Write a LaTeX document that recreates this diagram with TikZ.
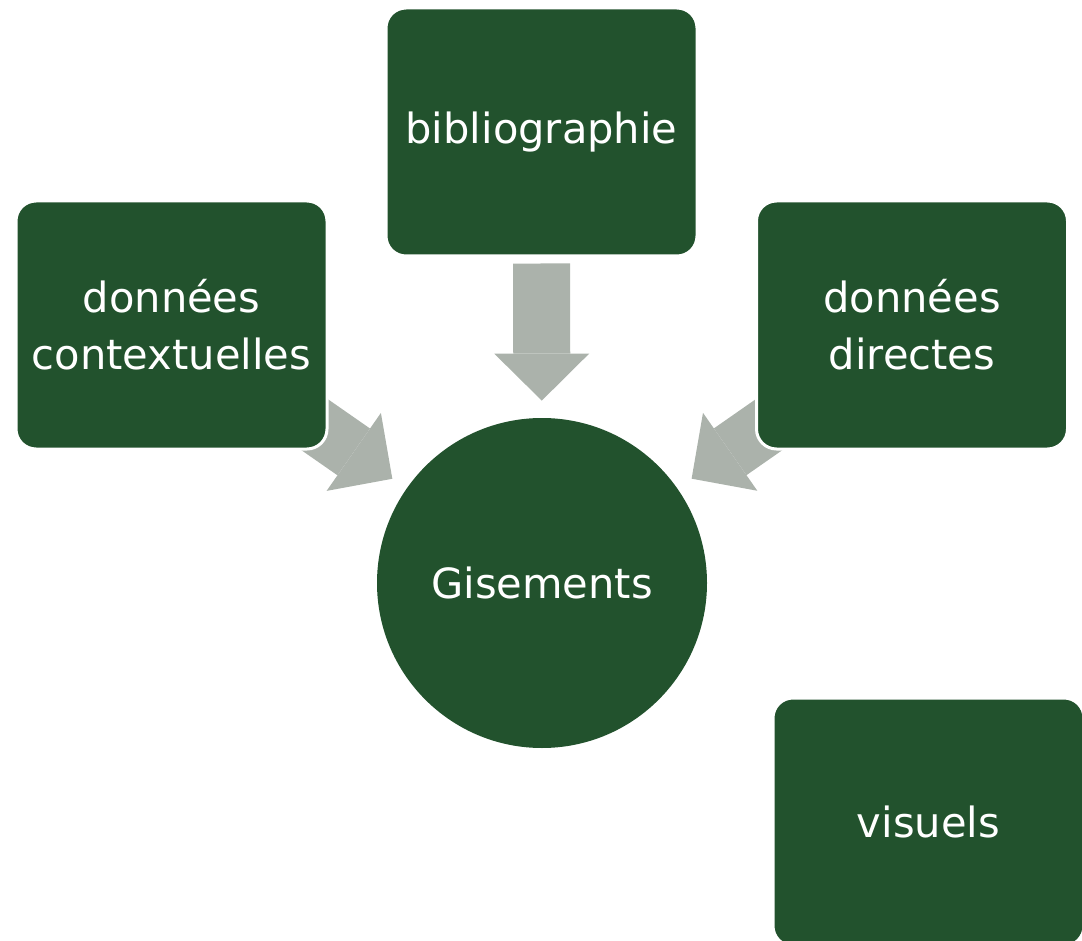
\documentclass[tikz,border=0pt]{standalone}
\usepackage{fontspec}
\setmainfont{DejaVu Sans}
\usetikzlibrary{arrows.meta,backgrounds}
\definecolor{gisgreen}{HTML}{22522D}
\definecolor{arrowgray}{HTML}{ABB2AB}

\begin{document}
\begin{tikzpicture}[x=0.5pt,y=-0.5pt,
    source/.style={rectangle, rounded corners=10pt, fill=gisgreen, draw=white, line width=1.5pt,
        text=white, minimum width=155.5pt, minimum height=124pt, align=center,
        font=\fontsize{20.8}{28.5}\selectfont},
    bigarrow/.style={draw=arrowgray, line width=28.5pt,
        -{Triangle[length=23.5pt, width=47.5pt, line width=0pt]}, shorten >=8.5pt}]
       \useasboundingbox (0,0) rectangle (1082,941);

       \node(Bib)[source] at (541.5,132) {bibliographie};
       \node(Ctx)[source] at (171.5,325) {données\\contextuelles};
       \node(Dir)[source] at (912,325) {données\\directes};
       \node(Vis)[source] at (928.5,822) {visuels};

       \node(Gis)[circle, fill=gisgreen, text=white, minimum size=165pt, inner sep=0pt,
           font=\fontsize{20.8}{28.5}\selectfont] at (542,583) {Gisements};

       % arrows run under the boxes
       \begin{pgfonlayer}{background}
       \draw[bigarrow, shorten <=3pt] (Bib) -- (Gis);
       \draw[bigarrow] (Ctx.center) -- (Gis);
       \draw[bigarrow] (Dir.center) -- (Gis);
       \end{pgfonlayer}
      \end{tikzpicture}
\end{document}
